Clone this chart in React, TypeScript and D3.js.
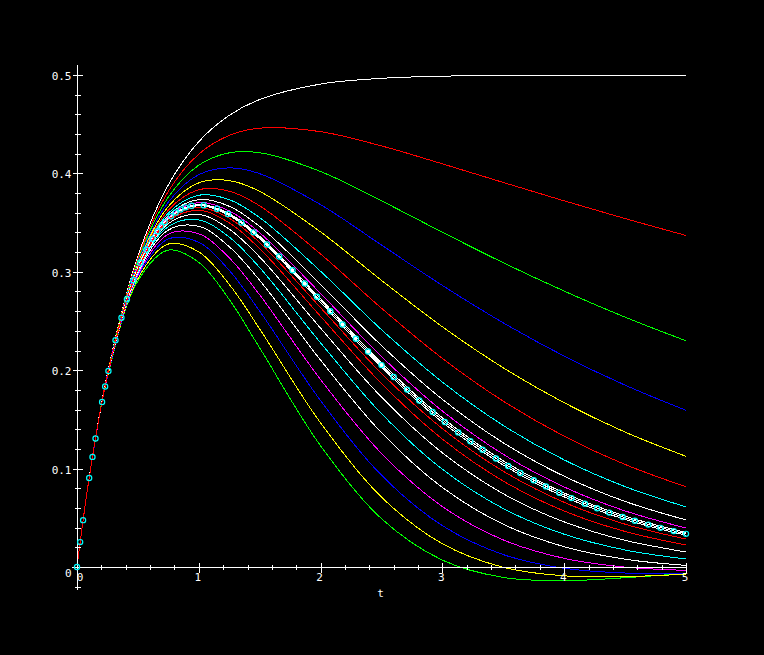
import React from 'react';
import * as d3 from 'd3';

// time grid shared by all curves
const T_GRID = [0, 0.1, 0.25, 0.5, 0.75, 1, 1.25, 1.5, 2, 2.5, 3, 3.5, 4, 4.5, 5];

// overdamped family (top to bottom)
const Y_S10 = [0, 0.0906, 0.1967, 0.3161, 0.3884, 0.4323, 0.4590, 0.4751, 0.4908, 0.4966, 0.4988, 0.4995, 0.4998, 0.4999, 0.5000];
const Y_S09 = [0, 0.0906, 0.1963, 0.3136, 0.3818, 0.4196, 0.4386, 0.4460, 0.4424, 0.4279, 0.4097, 0.3908, 0.3721, 0.3541, 0.3369];
const Y_S08 = [0, 0.0906, 0.1960, 0.3114, 0.3759, 0.4084, 0.4209, 0.4210, 0.4019, 0.3721, 0.3402, 0.3092, 0.2804, 0.2539, 0.2299];
const Y_S07 = [0, 0.0906, 0.1957, 0.3095, 0.3708, 0.3987, 0.4056, 0.3997, 0.3682, 0.3272, 0.2861, 0.2481, 0.2143, 0.1848, 0.1592];
const Y_S06 = [0, 0.0905, 0.1954, 0.3078, 0.3664, 0.3904, 0.3927, 0.3817, 0.3405, 0.2913, 0.2441, 0.2024, 0.1669, 0.1371, 0.1125];
const Y_S05 = [0, 0.0905, 0.1952, 0.3064, 0.3626, 0.3834, 0.3819, 0.3670, 0.3181, 0.2630, 0.2120, 0.1685, 0.1329, 0.1042, 0.0815];
const Y_S04 = [0, 0.0905, 0.1950, 0.3053, 0.3596, 0.3778, 0.3733, 0.3551, 0.3005, 0.2412, 0.1879, 0.1438, 0.1088, 0.0817, 0.0611];
const Y_S03 = [0, 0.0905, 0.1949, 0.3044, 0.3573, 0.3734, 0.3666, 0.3461, 0.2872, 0.2250, 0.1704, 0.1262, 0.0922, 0.0666, 0.0478];
const Y_S02 = [0, 0.0905, 0.1948, 0.3038, 0.3556, 0.3704, 0.3619, 0.3397, 0.2780, 0.2139, 0.1585, 0.1145, 0.0813, 0.0570, 0.0396];
const Y_S01 = [0, 0.0905, 0.1947, 0.3034, 0.3546, 0.3685, 0.3591, 0.3360, 0.2725, 0.2074, 0.1516, 0.1079, 0.0752, 0.0517, 0.0351];
// critical curve
const Y_CRIT = [0, 0.0905, 0.1947, 0.3033, 0.3543, 0.3679, 0.3581, 0.3347, 0.2707, 0.2052, 0.1494, 0.1057, 0.0733, 0.0500, 0.0337];
// underdamped family
const Y_W01 = [0, 0.0905, 0.1947, 0.3031, 0.3540, 0.3673, 0.3572, 0.3335, 0.2689, 0.2031, 0.1471, 0.1036, 0.0713, 0.0483, 0.0323];
const Y_W02 = [0, 0.0905, 0.1946, 0.3028, 0.3530, 0.3654, 0.3544, 0.3297, 0.2635, 0.1968, 0.1406, 0.0973, 0.0657, 0.0435, 0.0284];
const Y_W03 = [0, 0.0905, 0.1945, 0.3021, 0.3513, 0.3624, 0.3498, 0.3235, 0.2547, 0.1865, 0.1300, 0.0873, 0.0569, 0.0361, 0.0224];
const Y_W04 = [0, 0.0905, 0.1944, 0.3013, 0.3490, 0.3582, 0.3434, 0.3150, 0.2427, 0.1727, 0.1160, 0.0744, 0.0458, 0.0271, 0.0153];
const Y_W05 = [0, 0.0904, 0.1942, 0.3001, 0.3460, 0.3527, 0.3353, 0.3042, 0.2278, 0.1558, 0.0993, 0.0594, 0.0333, 0.0173, 0.0081];
const Y_W06 = [0, 0.0904, 0.1940, 0.2987, 0.3424, 0.3462, 0.3255, 0.2913, 0.2102, 0.1365, 0.0808, 0.0434, 0.0206, 0.0079, 0.0016];
const Y_W07 = [0, 0.0904, 0.1937, 0.2971, 0.3382, 0.3386, 0.3142, 0.2765, 0.1905, 0.1154, 0.0614, 0.0275, 0.0088, -0.0001, -0.0034];
const Y_W08 = [0, 0.0904, 0.1934, 0.2953, 0.3334, 0.3299, 0.3014, 0.2600, 0.1691, 0.0933, 0.0420, 0.0126, -0.0013, -0.0061, -0.0064];
const Y_W09 = [0, 0.0904, 0.1931, 0.2931, 0.3282, 0.3202, 0.2872, 0.2419, 0.1464, 0.0710, 0.0236, -0.0003, -0.0090, -0.0097, -0.0073];
const Y_W10 = [0, 0.0903, 0.1927, 0.2908, 0.3220, 0.3096, 0.2719, 0.2226, 0.1231, 0.0491, 0.0070, -0.0106, -0.0139, -0.0109, -0.0065];

// marked points on the critical curve
const T_MARKS = [0, 0.026, 0.05, 0.1, 0.127, 0.152, 0.206, 0.231, 0.258, 0.316, 0.365, 0.41, 0.463, 0.52, 0.57, 0.62, 0.66, 0.69, 0.72, 0.77, 0.81, 0.85, 0.89, 0.94, 1.04, 1.15, 1.24, 1.35, 1.45, 1.56, 1.66, 1.77, 1.87, 1.97, 2.08, 2.18, 2.29, 2.39, 2.5, 2.6, 2.71, 2.81, 2.92, 3.02, 3.13, 3.23, 3.33, 3.44, 3.54, 3.64, 3.75, 3.85, 3.96, 4.06, 4.17, 4.27, 4.37, 4.48, 4.58, 4.69, 4.79, 4.9, 5];
const Y_MARKS = [0, 0.0253, 0.0476, 0.0905, 0.1119, 0.1306, 0.1677, 0.1834, 0.1993, 0.2304, 0.2534, 0.2721, 0.2914, 0.3092, 0.3224, 0.3335, 0.3411, 0.3461, 0.3505, 0.3565, 0.3603, 0.3633, 0.3655, 0.3672, 0.3676, 0.3641, 0.3588, 0.3500, 0.3401, 0.3278, 0.3156, 0.3015, 0.2882, 0.2747, 0.2599, 0.2464, 0.2319, 0.2190, 0.2052, 0.1931, 0.1803, 0.1692, 0.1575, 0.1474, 0.1368, 0.1278, 0.1192, 0.1103, 0.1027, 0.0956, 0.0882, 0.0819, 0.0755, 0.0700, 0.0644, 0.0597, 0.0553, 0.0508, 0.0470, 0.0431, 0.0398, 0.0365, 0.0337];

// drawing order (last drawn on top)
const CURVE_VALUES = [Y_S10, Y_S09, Y_S08, Y_S07, Y_S06, Y_S05, Y_S04, Y_S03, Y_S02, Y_S01, Y_CRIT,
  Y_W10, Y_W09, Y_W08, Y_W07, Y_W06, Y_W05, Y_W04, Y_W01, Y_W03, Y_W02];
const CURVE_COLORS = ['#ffffff', '#ff0000', '#00ff00', '#0000ff', '#ffff00', '#ff0000', '#00ffff', '#ffffff', '#ff00ff', '#ffffff', '#ffffff',
  '#00ff00', '#ffff00', '#0000ff', '#ff00ff', '#ffffff', '#00ffff', '#ffffff', '#ffffff', '#ff0000', '#ff0000'];

const X_TICKS = [0, 1, 2, 3, 4, 5];
const X_TICK_LABELS = ['0', '1', '2', '3', '4', '5'];
const Y_TICKS = [0, 0.1, 0.2, 0.3, 0.4, 0.5];
const Y_TICK_LABELS = ['0', '0.1', '0.2', '0.3', '0.4', '0.5'];
const X_LABEL = 't';

const W = 764;
const H = 655;

export default function App() {
  const x = d3.scaleLinear().domain([0, 5]).range([77, 686]);
  const y = d3.scaleLinear().domain([0, 0.5]).range([567, 75]);

  const line = d3
    .line<[number, number]>()
    .x((d) => x(d[0]))
    .y((d) => y(d[1]))
    .curve(d3.curveCatmullRom.alpha(0.5));

  const x0 = Math.round(x(0)) + 0.5;
  const y0 = Math.round(y(0)) + 0.5;

  const xMinor = d3.range(0, 5.001, 0.2).filter((v) => Math.abs(v - Math.round(v)) > 1e-6);
  const yMinor = d3.range(-0.02, 0.5001, 0.02).filter((v) => Math.abs(v * 10 - Math.round(v * 10)) > 1e-6);

  const font = '"DejaVu Sans Mono", monospace';

  return (
    <svg
      width={W}
      height={H}
      style={{ position: 'absolute', left: 0, top: 0, background: '#000' }}
    >
      <rect x={0} y={0} width={W} height={H} fill="#000" />
      <g shapeRendering="crispEdges" fill="none" strokeWidth={1}>
        {CURVE_VALUES.map((vals, i) => (
          <path
            key={i}
            d={line(T_GRID.map((t, j) => [t, vals[j]] as [number, number])) || ''}
            stroke={CURVE_COLORS[i]}
          />
        ))}
      </g>
      {/* axes */}
      <g stroke="#fff" strokeWidth={1} shapeRendering="crispEdges">
        <line x1={x0} x2={x0} y1={y(0.5102)} y2={y(-0.0235)} />
        <line x1={x(-0.043)} x2={x(5)} y1={y0} y2={y0} />
        {X_TICKS.map((v) => (
          <line key={'xt' + v} x1={Math.round(x(v)) + 0.5} x2={Math.round(x(v)) + 0.5} y1={y0 - 5} y2={y0 + 5} />
        ))}
        {xMinor.map((v) => (
          <line key={'xm' + v} x1={Math.round(x(v)) + 0.5} x2={Math.round(x(v)) + 0.5} y1={y0 - 3} y2={y0 + 2} />
        ))}
        {Y_TICKS.map((v) => (
          <line key={'yt' + v} x1={x0 - 5} x2={x0 + 5} y1={Math.round(y(v)) + 0.5} y2={Math.round(y(v)) + 0.5} />
        ))}
        {yMinor.map((v) => (
          <line key={'ym' + v} x1={x0 - 3} x2={x0 + 3} y1={Math.round(y(v)) + 0.5} y2={Math.round(y(v)) + 0.5} />
        ))}
      </g>
      {/* marked points */}
      <g fill="none" stroke="#00ffff" strokeWidth={1.2}>
        {T_MARKS.map((t, i) => (
          <circle key={'m' + i} cx={x(t)} cy={y(Y_MARKS[i])} r={2.6} />
        ))}
      </g>
      {/* labels */}
      <g fill="#fff" fontFamily={font} fontSize={11}>
        {Y_TICKS.map((v, i) => (
          <text
            key={'yl' + v}
            x={x0 - 6}
            y={y(v) + (v === 0 ? 6 : 1.5)}
            textAnchor="end"
            dominantBaseline="central"
          >
            {Y_TICK_LABELS[i]}
          </text>
        ))}
        {X_TICKS.map((v, i) => (
          <text
            key={'xl' + v}
            x={x(v) + (v === 0 ? 3 : -1)}
            y={y0 + 10}
            textAnchor="middle"
            dominantBaseline="central"
          >
            {X_TICK_LABELS[i]}
          </text>
        ))}
        <text x={x(2.5) - 1} y={y0 + 26} textAnchor="middle" dominantBaseline="central">
          {X_LABEL}
        </text>
      </g>
    </svg>
  );
}
